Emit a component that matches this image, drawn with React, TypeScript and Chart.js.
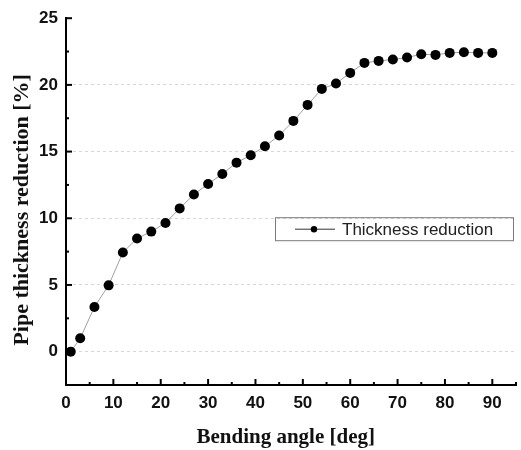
import React, { useEffect, useRef } from 'react';
import { Chart, registerables } from 'chart.js';

Chart.register(...registerables);

const angles = [1, 3, 6, 9, 12, 15, 18, 21, 24, 27, 30, 33, 36, 39, 42, 45, 48, 51, 54, 57, 60, 63, 66, 69, 72, 75, 78, 81, 84, 87, 90];
const thickness = [0.0, 1.0, 3.35, 4.97, 7.43, 8.49, 9.0, 9.65, 10.74, 11.78, 12.57, 13.32, 14.17, 14.73, 15.4, 16.2, 17.3, 18.5, 19.7, 20.1, 20.9, 21.65, 21.8, 21.9, 22.05, 22.3, 22.25, 22.4, 22.45, 22.4, 22.4];
const xTicks = [0, 10, 20, 30, 40, 50, 60, 70, 80, 90];
const yTicks = [0, 5, 10, 15, 20, 25];
const seriesLabel = 'Thickness reduction';
const xTitle = 'Bending angle [deg]';
const yTitle = 'Pipe thickness reduction [%]';

const tickFont = { family: '"Liberation Sans Narrow", "Liberation Sans", Arial, sans-serif', size: 17, weight: 'bold' as const };
const titleFamily = '"Liberation Serif", "Times New Roman", serif';

const decorPlugin = {
  id: 'decor',
  afterDraw(chart: any) {
    const { ctx, chartArea, scales } = chart;
    const x = scales.x;
    const y = scales.y;
    ctx.save();
    ctx.strokeStyle = '#000';
    ctx.lineWidth = 2;
    for (let v = 0; v <= 25; v += 2.5) {
      const py = y.getPixelForValue(v);
      const len = v % 5 === 0 ? 6 : 3;
      ctx.beginPath();
      ctx.moveTo(chartArea.left, py);
      ctx.lineTo(chartArea.left + len, py);
      ctx.stroke();
    }
    for (let v = 5; v <= 95; v += 5) {
      const px = x.getPixelForValue(v);
      const len = v % 10 === 0 ? 6 : 3;
      ctx.beginPath();
      ctx.moveTo(px, chartArea.bottom);
      ctx.lineTo(px, chartArea.bottom - len);
      ctx.stroke();
    }
    // legend
    const bx = chartArea.left + 209;
    const by = chartArea.top + 199;
    const bw = 238;
    const bh = 23;
    ctx.strokeStyle = '#7a7a7a';
    ctx.lineWidth = 1;
    ctx.strokeRect(bx + 0.5, by + 0.5, bw, bh);
    const cy = by + bh / 2 + 0.5;
    ctx.strokeStyle = '#333';
    ctx.beginPath();
    ctx.moveTo(bx + 20, cy);
    ctx.lineTo(bx + 60, cy);
    ctx.stroke();
    ctx.fillStyle = '#000';
    ctx.beginPath();
    ctx.arc(bx + 39, cy, 3.2, 0, Math.PI * 2);
    ctx.fill();
    ctx.fillStyle = '#222';
    ctx.font = '17px "Liberation Sans", Arial, sans-serif';
    ctx.textBaseline = 'middle';
    ctx.textAlign = 'left';
    ctx.fillText(chart.data.datasets[0].label, bx + 67, cy + 1);
    ctx.restore();
  },
};

export default function App() {
  const ref = useRef<HTMLCanvasElement>(null);
  useEffect(() => {
    if (!ref.current) return;
    const chart = new Chart(ref.current, {
      type: 'line',
      data: {
        datasets: [
          {
            label: seriesLabel,
            data: angles.map((a, i) => ({ x: a, y: thickness[i] })),
            borderColor: '#a0a0a0',
            borderWidth: 1,
            pointRadius: 5,
            pointBackgroundColor: '#000',
            pointBorderColor: '#000',
            pointBorderWidth: 0,
            clip: false as any,
            tension: 0,
          },
        ],
      },
      options: {
        responsive: false,
        animation: false,
        layout: { padding: { top: 16, right: 5, left: 0, bottom: 0 } },
        plugins: { legend: { display: false }, tooltip: { enabled: false } },
        scales: {
          x: {
            type: 'linear',
            min: 0,
            max: 95,
            afterBuildTicks: (s: any) => {
              s.ticks = xTicks.map((v) => ({ value: v }));
            },
            afterFit: (s: any) => {
              s.height = 65;
            },
            ticks: { font: tickFont, color: '#111', padding: 8, maxRotation: 0, autoSkip: false },
            grid: { drawOnChartArea: false, drawTicks: false },
            border: { display: true, color: '#000', width: 2 },
            title: {
              display: true,
              text: xTitle + '  ',
              color: '#111',
              font: { family: titleFamily, size: 21, weight: 'bold' },
              padding: { top: 0, bottom: 0 },
            },
          },
          y: {
            type: 'linear',
            min: -2.5,
            max: 25,
            afterBuildTicks: (s: any) => {
              s.ticks = yTicks.map((v) => ({ value: v }));
            },
            afterFit: (s: any) => {
              s.width = 66;
            },
            ticks: { font: tickFont, color: '#111', padding: 8 },
            grid: {
              drawTicks: false,
              lineWidth: 1,
              color: (c: any) => (c.tick && c.tick.value < 25 ? '#d6d6d6' : 'rgba(0,0,0,0)'),
            },
            border: { display: true, color: '#000', width: 2, dash: [3, 3] },
            title: {
              display: true,
              text: yTitle + '   ',
              color: '#111',
              font: { family: titleFamily, size: 22, weight: 'bold' },
              padding: { top: 9, bottom: 0 },
            },
          },
        },
      },
      plugins: [decorPlugin],
    });
    return () => chart.destroy();
  }, []);
  return (
    <div style={{ position: 'absolute', left: 0, top: 0, width: 521, height: 450, background: '#fff' }}>
      <canvas ref={ref} width={521} height={450} />
    </div>
  );
}
